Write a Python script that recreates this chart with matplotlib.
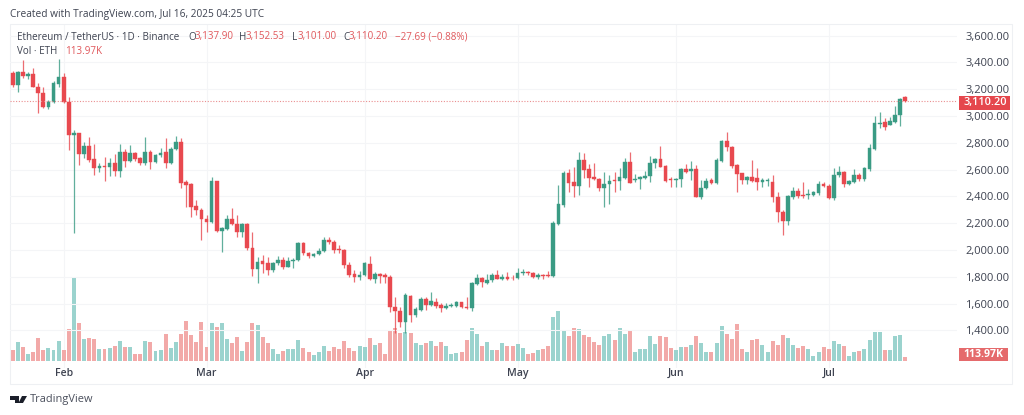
import matplotlib
matplotlib.use('Agg')
import matplotlib.pyplot as plt
from matplotlib.patches import Rectangle, Polygon

# ETH/USDT daily candles, Jan 22 - Jul 16 2025
opens = [3318, 3231, 3330, 3300, 3310, 3218, 3169, 3064, 3106, 3238, 3293, 3106, 2858, 2870, 2716, 2776, 2676, 2609, 2629, 2617,
         2651, 2592, 2731, 2666, 2721, 2684, 2646, 2733, 2659, 2706, 2728, 2651, 2751, 2808, 2507, 2490, 2328, 2298, 2234, 2211,
         2512, 2142, 2157, 2231, 2194, 2134, 2196, 2017, 1855, 1920, 1905, 1851, 1901, 1925, 1876, 1918, 1925, 2050, 1980, 1955,
         1968, 1995, 2075, 2062, 2008, 2000, 1891, 1821, 1796, 1814, 1896, 1781, 1819, 1811, 1801, 1572, 1545, 1465, 1659, 1513,
         1552, 1634, 1590, 1615, 1587, 1570, 1582, 1585, 1610, 1577, 1567, 1746, 1789, 1756, 1776, 1814, 1787, 1800, 1794, 1789,
         1831, 1839, 1826, 1796, 1814, 1814, 1806, 2194, 2336, 2577, 2505, 2480, 2672, 2602, 2543, 2530, 2461, 2490, 2520, 2515,
         2540, 2660, 2523, 2528, 2540, 2553, 2652, 2677, 2627, 2530, 2520, 2528, 2602, 2590, 2602, 2398, 2460, 2520, 2500, 2667,
         2814, 2766, 2635, 2572, 2523, 2542, 2535, 2505, 2515, 2510, 2398, 2286, 2217, 2398, 2440, 2411, 2408, 2413, 2423, 2490,
         2480, 2391, 2557, 2585, 2490, 2508, 2560, 2527, 2602, 2754, 2940, 2958, 2935, 2958, 3005, 3137.90]
highs = [3338, 3338, 3417, 3330, 3355, 3243, 3213, 3119, 3263, 3422, 3318, 3144, 2895, 2875, 2808, 2845, 2791, 2651, 2691, 2684,
         2716, 2791, 2751, 2783, 2733, 2691, 2840, 2746, 2716, 2758, 2833, 2771, 2850, 2833, 2522, 2497, 2373, 2311, 2261, 2547,
         2517, 2174, 2261, 2311, 2261, 2204, 2204, 2137, 1950, 1963, 1950, 1913, 1955, 1945, 1945, 1938, 2062, 2060, 1988, 1980,
         2012, 2100, 2095, 2075, 2037, 2010, 1913, 1851, 1846, 1913, 1955, 1838, 1831, 1826, 1811, 1652, 1577, 1677, 1664, 1572,
         1652, 1647, 1684, 1640, 1602, 1602, 1602, 1620, 1615, 1652, 1759, 1821, 1801, 1819, 1826, 1851, 1821, 1839, 1814, 1864,
         1856, 1846, 1839, 1826, 1821, 1844, 2219, 2485, 2592, 2602, 2622, 2734, 2722, 2642, 2647, 2535, 2585, 2560, 2585, 2610,
         2684, 2729, 2567, 2553, 2592, 2704, 2689, 2779, 2635, 2543, 2540, 2610, 2640, 2667, 2635, 2523, 2535, 2540, 2684, 2821,
         2878, 2776, 2642, 2577, 2555, 2672, 2610, 2535, 2540, 2560, 2435, 2299, 2411, 2473, 2460, 2510, 2453, 2440, 2515, 2510,
         2493, 2610, 2627, 2590, 2522, 2602, 2572, 2617, 2791, 3000, 3027, 2983, 2995, 3075, 3137, 3152.53]
lows = [3218, 3181, 3280, 3273, 3213, 3020, 3057, 3049, 3094, 3213, 3099, 2746, 2124, 2634, 2684, 2659, 2559, 2584, 2517, 2552,
        2552, 2542, 2622, 2659, 2664, 2634, 2634, 2602, 2646, 2696, 2609, 2641, 2746, 2460, 2323, 2248, 2261, 2074, 2137, 2199,
        2137, 1987, 2149, 2186, 2099, 2094, 2000, 1806, 1756, 1826, 1814, 1838, 1888, 1856, 1871, 1863, 1920, 1963, 1938, 1950,
        1963, 1983, 2045, 1975, 1975, 1863, 1801, 1764, 1776, 1806, 1776, 1751, 1751, 1756, 1540, 1378, 1428, 1378, 1465, 1503,
        1545, 1552, 1582, 1565, 1540, 1560, 1572, 1577, 1565, 1562, 1545, 1739, 1722, 1746, 1764, 1781, 1777, 1777, 1777, 1784,
        1814, 1814, 1789, 1782, 1782, 1801, 1801, 2187, 2319, 2431, 2398, 2411, 2535, 2468, 2523, 2443, 2319, 2344, 2436, 2448,
        2530, 2498, 2510, 2456, 2530, 2510, 2610, 2617, 2505, 2468, 2468, 2468, 2572, 2523, 2393, 2378, 2456, 2493, 2493, 2660,
        2742, 2610, 2436, 2493, 2493, 2510, 2448, 2473, 2478, 2361, 2212, 2112, 2187, 2378, 2386, 2386, 2381, 2403, 2411, 2468,
        2378, 2373, 2547, 2468, 2483, 2503, 2515, 2517, 2592, 2746, 2908, 2895, 2930, 2950, 2925, 3101.00]
closes = [3231, 3328, 3298, 3310, 3218, 3169, 3069, 3106, 3243, 3293, 3102, 2858, 2875, 2716, 2776, 2671, 2609, 2629, 2622, 2646,
          2589, 2731, 2666, 2721, 2681, 2646, 2733, 2659, 2706, 2726, 2651, 2753, 2808, 2502, 2485, 2323, 2298, 2229, 2211, 2512,
          2142, 2162, 2231, 2194, 2134, 2194, 2012, 1855, 1913, 1896, 1851, 1901, 1925, 1876, 1920, 1925, 2050, 1975, 1955, 1970,
          1995, 2075, 2057, 2000, 1998, 1886, 1814, 1796, 1814, 1901, 1781, 1819, 1809, 1801, 1572, 1545, 1465, 1664, 1513, 1557,
          1634, 1587, 1620, 1582, 1565, 1582, 1587, 1612, 1577, 1567, 1751, 1789, 1759, 1776, 1816, 1786, 1797, 1784, 1789, 1831,
          1836, 1831, 1801, 1816, 1809, 1809, 2204, 2341, 2577, 2498, 2480, 2672, 2597, 2535, 2528, 2461, 2493, 2518, 2515, 2543,
          2660, 2503, 2530, 2543, 2555, 2652, 2679, 2622, 2518, 2520, 2530, 2602, 2582, 2602, 2398, 2465, 2518, 2500, 2672, 2814,
          2766, 2627, 2567, 2523, 2548, 2518, 2505, 2522, 2522, 2393, 2286, 2217, 2403, 2440, 2406, 2403, 2418, 2430, 2493, 2478,
          2386, 2562, 2580, 2490, 2513, 2560, 2527, 2610, 2759, 2945, 2950, 2920, 2960, 3007, 3127, 3110.20]
# volume in thousands of ETH
volumes = [341, 587, 448, 203, 267, 736, 341, 395, 341, 640, 341, 1024, 2689, 1216, 683, 715, 683, 373, 373, 395,
           480, 619, 427, 427, 213, 213, 619, 587, 320, 341, 854, 416, 587, 854, 1270, 832, 608, 1248, 448, 1216,
           1067, 1216, 683, 576, 768, 309, 587, 1195, 1131, 747, 555, 384, 213, 320, 363, 363, 672, 405, 267, 181,
           267, 480, 320, 427, 373, 630, 405, 320, 480, 448, 736, 512, 566, 213, 960, 1035, 875, 907, 896, 576,
           501, 555, 630, 480, 587, 459, 224, 235, 288, 672, 1046, 864, 480, 598, 341, 341, 566, 480, 459, 544,
           395, 213, 235, 341, 384, 459, 1408, 1600, 950, 800, 1035, 1003, 822, 768, 598, 491, 790, 843, 672, 1046,
           843, 950, 267, 363, 373, 779, 534, 790, 758, 395, 341, 427, 448, 491, 790, 576, 277, 267, 566, 1110,
           843, 683, 1174, 363, 288, 672, 704, 512, 277, 630, 491, 811, 736, 512, 395, 459, 373, 160, 288, 437,
           363, 630, 523, 459, 160, 288, 320, 373, 672, 918, 907, 341, 341, 790, 832, 113.97]

price_ticks = [1400, 1600, 1800, 2000, 2200, 2400, 2600, 2800, 3000, 3200, 3400, 3600]
month_labels = ['Feb', 'Mar', 'Apr', 'May', 'Jun', 'Jul']
month_pos = [10, 38, 69, 99, 130, 160]
last_price = 3110.20

GREEN = '#3a9b84'
RED = '#e8494f'
GREEN_VOL = '#9bd3ce'
RED_VOL = '#f2a9a8'
TEXT = '#3d4250'
GRID = '#f4f5f7'
FONT = 'Open Sans'

W, H = 1024, 415
plt.rcParams['font.family'] = [FONT, 'DejaVu Sans']

fig = plt.figure(figsize=(W / 100, H / 100), dpi=100, facecolor='white')


def px(x, y):
    # pixel position in the picture -> figure fraction
    return x / W, 1 - y / H


def label(x, y, s, color=TEXT, size=7.15, **kw):
    fig.text(*px(x, y), s, color=color, fontsize=size, va='center', **kw)


# outer frame
fig.add_artist(Rectangle(px(10, 384), 1002 / W, 360 / H, transform=fig.transFigure,
                         fill=False, edgecolor='#eef0f3', linewidth=0.8))

# volume pane goes under the price pane
left, bottom = px(10, 368)
ax_vol = fig.add_axes([left, bottom, 947 / W, 344 / H])
ax = ax_vol.twinx()
ax.set_zorder(ax_vol.get_zorder() + 1)
ax.patch.set_visible(False)

days = list(range(len(closes)))
is_up = [c >= o for o, c in zip(opens, closes)]

ax_vol.bar(days, volumes, width=0.78, color=[GREEN_VOL if u else RED_VOL for u in is_up], linewidth=0)
ax_vol.set_ylim(-234, 10774)
ax_vol.set_xlim(-0.53, 185.15)
ax_vol.set_yticks([])
ax_vol.set_xticks(month_pos, month_labels)
ax_vol.tick_params(axis='x', length=0, pad=0, labelsize=7.6, labelcolor=TEXT)
for t in ax_vol.get_xticklabels():
    t.set_fontweight('semibold')
ax_vol.grid(axis='x', color=GRID, linewidth=0.8)
ax_vol.set_axisbelow(True)

colors = [GREEN if u else RED for u in is_up]
ax.vlines(days, lows, highs, colors=colors, linewidth=0.9, alpha=0.8)
ax.bar(days, [abs(c - o) for o, c in zip(opens, closes)], bottom=[min(o, c) for o, c in zip(opens, closes)],
       width=0.72, color=colors, linewidth=0.3, edgecolor=colors)
ax.axhline(last_price, color='#ea8f90', linewidth=0.8, linestyle=(0, (1, 1.5)), zorder=1)

ax.set_ylim(1120, 3686)
ax.set_yticks(price_ticks, [f'{p:,.2f}' for p in price_ticks])
ax.tick_params(axis='y', length=0, pad=5.8, labelsize=8, labelcolor=TEXT)
ax.grid(axis='y', color=GRID, linewidth=0.8)
ax.set_axisbelow(True)
for a in (ax, ax_vol):
    for s in a.spines.values():
        s.set_visible(False)

# price and volume tags on the right
fig.add_artist(Rectangle(px(959, 110), 51 / W, 14 / H, transform=fig.transFigure, color='#e5474d', linewidth=0))
label(985, 103, f'{last_price:,.2f}', color='white', size=7.8, ha='center', fontweight='semibold')
fig.add_artist(Rectangle(px(959, 361), 49 / W, 13 / H, transform=fig.transFigure, color='#e56a6c', linewidth=0))
label(983.5, 354.5, '113.97K', color='white', size=7.6, ha='center', fontweight='bold')

# header lines
label(10, 14, 'Created with TradingView.com, Jul 16, 2025 04:25 UTC', size=7.25)
label(17, 37, 'Ethereum / TetherUS · 1D · Binance')
for x, s in [(188, 'O'), (239, 'H'), (292, 'L'), (343, 'C')]:
    label(x, 37, s)
for x, s in [(194.5, '3,137.90'), (246, '3,152.53'), (298, '3,101.00'), (349, '3,110.20'), (395, '−27.69 (−0.88%)')]:
    label(x, 37, s, color='#e0585c')
label(17, 52, 'Vol · ETH')
label(65, 52, '113.97K', color='#e0585c')

# TradingView logo + name
logo = '#1b1f2a'
for pts in ([(10, 396), (19, 396), (19, 403), (15, 403), (15, 399.5), (10, 399.5)],
            [(22, 396), (27, 396), (23, 403), (18.5, 403)]):
    fig.add_artist(Polygon([px(*p) for p in pts], closed=True, transform=fig.transFigure, color=logo, linewidth=0))
label(30, 399, 'TradingView', color='#4a4f5c', size=7.9)

fig.savefig('out.png', dpi=100)
